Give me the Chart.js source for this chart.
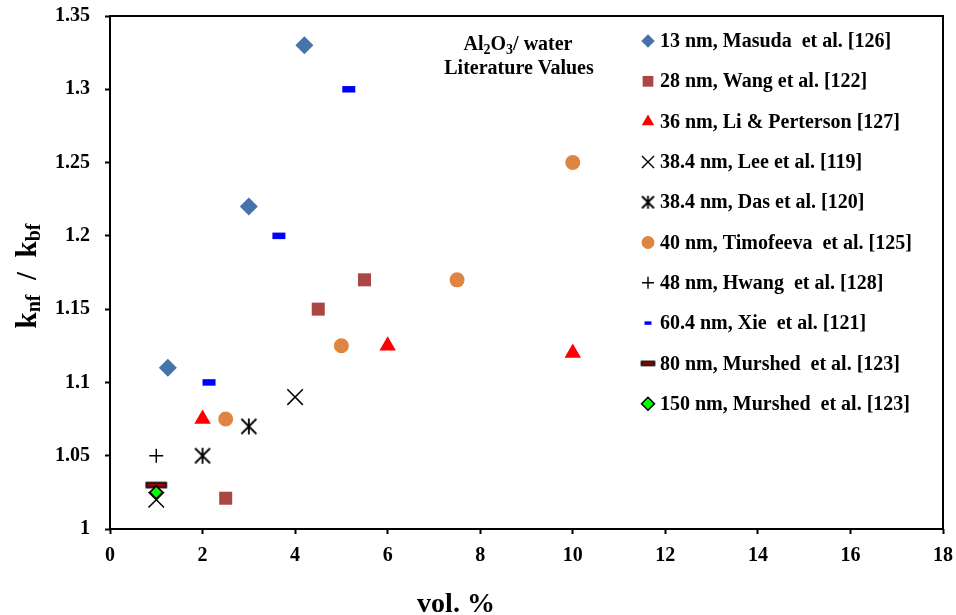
<!DOCTYPE html>
<html>
<head>
<meta charset="utf-8">
<title>Al2O3/water - k_nf / k_bf</title>
<script src="https://cdn.jsdelivr.net/npm/chart.js@4.4.1/dist/chart.umd.min.js"></script>
<style>
  html, body { margin: 0; padding: 0; background: #fff; }
  #wrap { width: 956px; height: 615px; }
</style>
</head>
<body>
<div id="wrap"><canvas id="kChart" width="956" height="615"></canvas></div>
<script>
// vol.% / k_nf/k_bf pairs per source
const masudaX = [1.25, 3, 4.2];
const masudaY = [1.11, 1.22, 1.33];
const wangX = [2.5, 4.5, 5.5];
const wangY = [1.021, 1.15, 1.17];
const liX = [2, 6, 10];
const liY = [1.075, 1.125, 1.12];
const leeX = [1, 4];
const leeY = [1.02, 1.09];
const dasX = [2, 3];
const dasY = [1.05, 1.07];
const timofeevaX = [2.5, 5, 7.5, 10];
const timofeevaY = [1.075, 1.125, 1.17, 1.25];
const hwangX = [1];
const hwangY = [1.05];
const xieX = [2.14, 3.65, 5.16];
const xieY = [1.1, 1.2, 1.3];
const murshed80X = [1];
const murshed80Y = [1.03];
const murshed150X = [1];
const murshed150Y = [1.025];

const seriesLabels = [
    '13 nm, Masuda  et al. [126]',
    '28 nm, Wang et al. [122]',
    '36 nm, Li & Perterson [127]',
    '38.4 nm, Lee et al. [119]',
    '38.4 nm, Das et al. [120]',
    '40 nm, Timofeeva  et al. [125]',
    '48 nm, Hwang  et al. [128]',
    '60.4 nm, Xie  et al. [121]',
    '80 nm, Murshed  et al. [123]',
    '150 nm, Murshed  et al. [123]'
];

const xTicks = [0, 2, 4, 6, 8, 10, 12, 14, 16, 18];
const yTicks = [1, 1.05, 1.1, 1.15, 1.2, 1.25, 1.3, 1.35];

const FONT = '"Liberation Serif", "Times New Roman", serif';

const pts = (xs, ys) => xs.map((x, i) => ({ x: x, y: ys[i] }));

// asterisk marker: an X with a vertical stroke through it
function makeAsterisk(s) {
    const c = document.createElement('canvas');
    const n = Math.ceil(18 * s) + 2;
    c.width = n; c.height = n;
    const g = c.getContext('2d');
    const m = n / 2, a = 7.5 * s, v = 8 * s;
    g.strokeStyle = '#000';
    g.lineWidth = 1.8;
    g.beginPath();
    g.moveTo(m - a, m - a); g.lineTo(m + a, m + a);
    g.moveTo(m + a, m - a); g.lineTo(m - a, m + a);
    g.moveTo(m, m - v); g.lineTo(m, m + v);
    g.stroke();
    return c;
}

// dark red bar with black outline
function makeBar(w, h) {
    const c = document.createElement('canvas');
    c.width = w + 4; c.height = h + 4;
    const g = c.getContext('2d');
    g.fillStyle = '#A00000';
    g.strokeStyle = '#000';
    g.lineWidth = 1.5;
    g.fillRect(2, 2, w, h);
    g.strokeRect(2, 2, w, h);
    return c;
}

const marker = [
    { style: 'rectRot', r: 9, bg: '#4673AA', bc: '#4673AA', bw: 0 },
    { style: 'rect', r: 9.2, bg: '#AA4643', bc: '#AA4643', bw: 0 },
    { style: 'triangle', r: 9.5, bg: '#FF0000', bc: '#FF0000', bw: 0 },
    { style: 'crossRot', r: 11, bg: '#000', bc: '#000', bw: 1.5 },
    { style: makeAsterisk(1), r: 8, bg: '#000', bc: '#000', bw: 0 },
    { style: 'circle', r: 7.5, bg: '#DE8641', bc: '#DE8641', bw: 0 },
    { style: 'cross', r: 7, bg: '#000', bc: '#000', bw: 1.5 },
    { style: 'line', r: 6.5, bg: '#0000FF', bc: '#0000FF', bw: 6.5 },
    { style: makeBar(20, 5), r: 10, bg: '#A00000', bc: '#000', bw: 0 },
    { style: 'rectRot', r: 6.5, bg: '#00FF00', bc: '#000', bw: 1.5 }
];

const legendMarker = [
    { style: 'rectRot', r: 6.7, bw: 0 },
    { style: 'rect', r: 7.6, bw: 0 },
    { style: 'triangle', r: 7.2, bw: 0 },
    { style: 'crossRot', r: 8.5, bw: 1.4 },
    { style: makeAsterisk(0.8), r: 6, bw: 0 },
    { style: 'circle', r: 6.5, bw: 0 },
    { style: 'cross', r: 6, bw: 1.4 },
    { style: 'line', r: 3.5, bw: 3.5 },
    { style: makeBar(13, 4), r: 7, bw: 0 },
    { style: 'rectRot', r: 6.5, bw: 1.5 }
];

const seriesData = [
    pts(masudaX, masudaY), pts(wangX, wangY), pts(liX, liY), pts(leeX, leeY),
    pts(dasX, dasY), pts(timofeevaX, timofeevaY), pts(hwangX, hwangY),
    pts(xieX, xieY), pts(murshed80X, murshed80Y), pts(murshed150X, murshed150Y)
];

const datasets = seriesData.map((d, i) => ({
    label: seriesLabels[i],
    data: d,
    showLine: false,
    pointStyle: marker[i].style,
    pointRadius: marker[i].r,
    pointHoverRadius: marker[i].r,
    pointBackgroundColor: marker[i].bg,
    pointBorderColor: marker[i].bc,
    pointBorderWidth: marker[i].bw,
    order: seriesData.length - i   // later series drawn on top
}));

// box around the plot area
const frame = {
    id: 'frame',
    beforeDatasetsDraw(chart) {
        const a = chart.chartArea, ctx = chart.ctx;
        ctx.save();
        ctx.strokeStyle = '#000';
        ctx.lineWidth = 2;
        ctx.strokeRect(a.left, a.top, a.right - a.left, a.bottom - a.top);
        ctx.restore();
    }
};

// draws runs of [text, isSubscript] left to right from x
function drawRuns(ctx, runs, x, y, size, subSize, subDrop) {
    let cx = x;
    runs.forEach(([t, sub]) => {
        ctx.font = 'bold ' + (sub ? subSize : size) + 'px ' + FONT;
        ctx.fillText(t, cx, sub ? y + subDrop : y);
        cx += ctx.measureText(t).width;
    });
}
function runsWidth(ctx, runs, size, subSize) {
    return runs.reduce((w, [t, sub]) => {
        ctx.font = 'bold ' + (sub ? subSize : size) + 'px ' + FONT;
        return w + ctx.measureText(t).width;
    }, 0);
}

const texts = {
    id: 'texts',
    afterDraw(chart) {
        const ctx = chart.ctx;
        ctx.save();
        ctx.fillStyle = '#000';
        ctx.textBaseline = 'alphabetic';
        ctx.textAlign = 'left';

        // y title: k_nf / k_bf
        const yRuns = [['k', false], ['nf', true], ['  /  ', false], ['k', false], ['bf', true]];
        ctx.save();
        ctx.translate(36, 276);
        ctx.rotate(-Math.PI / 2);
        const yw = runsWidth(ctx, yRuns, 29, 20);
        drawRuns(ctx, yRuns, -yw / 2, 0, 29, 20, 4);
        ctx.restore();

        // x title
        ctx.font = 'bold 28px ' + FONT;
        ctx.textAlign = 'center';
        ctx.fillText('vol. %', 456, 612);

        // note inside the plot
        ctx.textAlign = 'left';
        const noteRuns = [['Al', false], ['2', true], ['O', false], ['3', true], ['/ water', false]];
        const nw = runsWidth(ctx, noteRuns, 20, 14);
        drawRuns(ctx, noteRuns, 518 - nw / 2, 50, 20, 14, 4);
        ctx.font = 'bold 20px ' + FONT;
        ctx.textAlign = 'center';
        ctx.fillText('Literature Values', 519, 74);

        // legend
        ctx.textAlign = 'left';
        ctx.textBaseline = 'middle';
        chart.data.datasets.forEach((ds, i) => {
            const y = 41 + i * 40.3;
            const m = legendMarker[i];
            ctx.save();
            ctx.fillStyle = marker[i].bg;
            ctx.strokeStyle = marker[i].bc;
            ctx.lineWidth = m.bw;
            Chart.helpers.drawPoint(ctx, { pointStyle: m.style, radius: m.r, borderWidth: m.bw, rotation: 0 }, 648, y);
            ctx.restore();
            ctx.font = 'bold 20px ' + FONT;
            ctx.fillText(ds.label, 660, y + 1);
        });
        ctx.restore();
    }
};

const tickFont = { family: FONT, size: 20, weight: 'bold' };

new Chart(document.getElementById('kChart'), {
    type: 'scatter',
    data: { datasets: datasets },
    options: {
        responsive: false,
        animation: false,
        events: [],
        layout: { padding: { top: 16, right: 13, left: 0, bottom: 0 } },
        plugins: {
            legend: { display: false },
            tooltip: { enabled: false }
        },
        scales: {
            x: {
                type: 'linear',
                min: 0,
                max: 18,
                afterBuildTicks: s => { s.ticks = xTicks.map(v => ({ value: v })); },
                afterFit: s => { s.height = 86; s.paddingLeft = 0; s.paddingRight = 0; },
                border: { display: false },
                grid: { drawOnChartArea: false, drawTicks: true, tickLength: 5, tickWidth: 2, tickColor: '#000' },
                ticks: { color: '#000', font: tickFont, padding: 10, maxRotation: 0, callback: v => String(v) }
            },
            y: {
                type: 'linear',
                min: 1,
                max: 1.35,
                afterBuildTicks: s => { s.ticks = yTicks.map(v => ({ value: v })); },
                afterFit: s => { s.width = 110; s.paddingTop = 0; s.paddingBottom = 0; },
                border: { display: false },
                grid: { drawOnChartArea: false, drawTicks: true, tickLength: 5, tickWidth: 2, tickColor: '#000' },
                ticks: { color: '#000', font: tickFont, padding: 15, callback: v => String(+(+v).toFixed(2)) }
            }
        }
    },
    plugins: [frame, texts]
});
</script>
</body>
</html>
